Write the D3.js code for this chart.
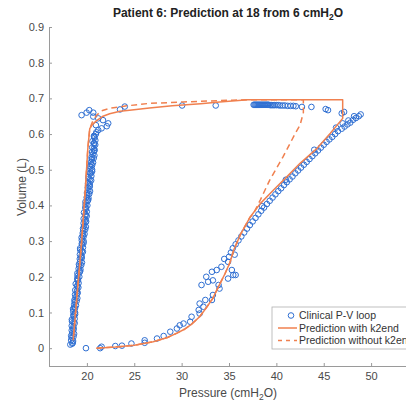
<!DOCTYPE html>
<html>
<head>
<meta charset="utf-8">
<script src="https://cdn.jsdelivr.net/npm/d3@7"></script>
<style>
    html, body { margin: 0; padding: 0; background: #fff; }
    svg { display: block; font-family: "Liberation Sans", Arial, Helvetica, sans-serif; }
</style>
</head>
<body>
<div id="chart"></div>
<script>
// Clinical P-V loop, [pressure cmH2O, volume L]
// steep inspiratory limb
const columnPts = [
    [18.25,0.01],[18.51,0.015],[18.54,0.02],[18.40,0.03],[18.34,0.035],[18.65,0.04],[18.40,0.05],[18.57,0.055],
    [18.58,0.06],[18.71,0.07],[18.43,0.075],[18.41,0.08],[18.62,0.09],[18.76,0.095],[18.75,0.10],[18.54,0.11],
    [18.66,0.115],[18.85,0.12],[18.72,0.13],[18.69,0.135],[18.99,0.14],[18.75,0.15],[19.03,0.155],[18.95,0.16],
    [19.10,0.17],[18.98,0.175],[18.82,0.18],[19.05,0.19],[19.00,0.195],[19.20,0.20],[19.00,0.21],[19.28,0.215],
    [19.32,0.22],[19.20,0.23],[19.16,0.235],[19.48,0.24],[19.25,0.25],[19.42,0.255],[19.44,0.26],[19.58,0.27],
    [19.30,0.275],[19.29,0.28],[19.51,0.29],[19.65,0.295],[19.65,0.30],[19.44,0.31],[19.56,0.315],[19.75,0.32],
    [19.62,0.33],[19.59,0.335],[19.89,0.34],[19.65,0.35],[19.92,0.355],[19.84,0.36],[19.98,0.37],[19.85,0.375],
    [19.69,0.38],[19.91,0.39],[19.85,0.395],[20.05,0.40],[19.85,0.41],[20.13,0.415],[20.17,0.42],[20.05,0.43],
    [20.01,0.435],[20.33,0.44],[20.10,0.45],[20.28,0.455],[20.30,0.46],[20.45,0.47],[20.18,0.475],[20.17,0.48],
    [20.40,0.49],[20.55,0.495],[20.55,0.50],[20.34,0.51],[20.46,0.515],[20.65,0.52],[20.52,0.53],[20.49,0.535],
    [20.79,0.54],[20.55,0.55],[20.82,0.555],[20.74,0.56],[20.88,0.57],[20.75,0.575],[20.59,0.58],[20.81,0.59],
    [20.75,0.595],[20.95,0.60]
];
// second pass of the same limb (the recording is very dense there)
const columnPts2 = [
    [18.45,0.0125],[18.34,0.0225],[18.59,0.0325],[18.46,0.0425],[18.60,0.0525],[18.40,0.0625],[18.60,0.0725],
    [18.71,0.0825],[18.57,0.0925],[18.56,0.1025],[18.75,0.1125],[18.66,0.1225],[18.92,0.1325],[18.80,0.1425],
    [18.95,0.1525],[18.77,0.1625],[18.99,0.1725],[19.12,0.1825],[19.00,0.1925],[19.01,0.2025],[19.21,0.2125],
    [19.13,0.2225],[19.40,0.2325],[19.29,0.2425],[19.45,0.2525],[19.26,0.2625],[19.47,0.2725],[19.59,0.2825],
    [19.46,0.2925],[19.46,0.3025],[19.65,0.3125],[19.56,0.3225],[19.82,0.3325],[19.70,0.3425],[19.85,0.3525],
    [19.66,0.3625],[19.87,0.3725],[19.99,0.3825],[19.86,0.3925],[19.86,0.4025],[20.06,0.4125],[19.98,0.4225],
    [20.25,0.4325],[20.14,0.4425],[20.30,0.4525],[20.12,0.4625],[20.34,0.4725],[20.47,0.4825],[20.35,0.4925],
    [20.36,0.5025],[20.55,0.5125],[20.46,0.5225],[20.72,0.5325],[20.60,0.5425],[20.75,0.5525],[20.56,0.5625],
    [20.77,0.5725],[20.89,0.5825],[20.76,0.5925]
];
// scatter around the upper-left corner
const cornerPts = [
    [21.0,0.605],[21.2,0.611],[21.55,0.616],[22.1,0.622],[22.25,0.63],[20.95,0.625],[21.7,0.639],[21.2,0.644],
    [20.67,0.649],[20.67,0.66],[20.25,0.667],[19.97,0.66],[19.44,0.653],[23.5,0.669],[24.0,0.677]
];
// end-inspiratory plateau
const plateauPts = [
    [30.05,0.68],[33.6,0.68],
    [37.6,0.682],[37.7,0.682],[37.8,0.682],[37.9,0.682],[38.0,0.682],[38.1,0.682],[38.2,0.682],[38.3,0.682],
    [38.4,0.682],[38.5,0.682],[38.6,0.682],[38.7,0.682],[38.8,0.682],[38.9,0.682],[39.0,0.682],[39.1,0.682],
    [39.2,0.682],[39.35,0.681],[39.5,0.681],[39.65,0.681],[39.8,0.681],[40.0,0.681],[40.2,0.681],[40.4,0.680],
    [40.65,0.680],[40.9,0.680],[41.2,0.679],[41.5,0.679],[41.8,0.679],[42.05,0.678],
    [42.7,0.676],[43.7,0.676],[45.2,0.670],[45.45,0.667],[47.15,0.662],[46.9,0.658]
];
// expiratory limb
const expirationPts = [
    [48.9,0.655],[48.7,0.650],[48.4,0.645],[48.1,0.640],[47.8,0.632],[47.5,0.627],[47.2,0.621],[46.9,0.615],
    [46.5,0.608],[46.2,0.600],[45.9,0.592],[45.6,0.585],[45.3,0.578],[45.0,0.570],[44.7,0.562],[44.4,0.554],
    [44.1,0.546],[43.8,0.538],[43.5,0.530],[43.2,0.522],[42.9,0.514],[42.6,0.506],[42.3,0.498],[42.0,0.490],
    [41.7,0.481],[41.4,0.473],[41.1,0.465],[40.8,0.457],[40.5,0.448],[40.2,0.440],[39.9,0.431],[39.6,0.422],
    [39.3,0.413],[39.0,0.404],[38.7,0.394],[38.4,0.385],[38.1,0.375],[37.8,0.365],[37.5,0.355],[37.2,0.345],
    [36.9,0.335],[36.6,0.324],[36.3,0.313],[36.0,0.302],[35.7,0.291],[35.4,0.280],[35.2,0.268],[35.0,0.256],
    [48.2,0.650],[47.6,0.638],[47.0,0.630],[46.3,0.618],[44.0,0.556],[41.0,0.472],[38.5,0.398]
];
// low-volume toe region
const toePts = [
    [34.9,0.242],[34.2,0.228],[33.7,0.219],[33.2,0.214],[32.6,0.200],[33.3,0.190],[32.8,0.186],[32.1,0.177],
    [33.9,0.177],[35.3,0.219],[35.45,0.205],[35.7,0.205],[34.9,0.195],[34.0,0.167],[33.3,0.149],[33.2,0.135],
    [32.5,0.135],[31.9,0.125],[32.3,0.116],[31.8,0.107],[31.9,0.097],[31.05,0.088],[30.9,0.074],[30.2,0.069],
    [29.8,0.064],[29.5,0.055],[28.8,0.046],[28.1,0.034],[27.4,0.027],[26.1,0.022],[26.1,0.015],[24.7,0.013],
    [23.7,0.007],[23.0,0.006],[21.55,0.004],[21.4,0.0],[19.9,0.0],[34.5,0.250],[35.6,0.262]
];

// Prediction with k2end (solid)
const withK2end = [
    [21.0,0.0],[23.0,0.003],[25.0,0.008],[27.0,0.018],[28.5,0.030],[29.5,0.042],[30.3,0.053],[31.0,0.066],
    [31.9,0.088],[32.6,0.113],[33.3,0.140],[34.0,0.178],[34.6,0.210],[35.1,0.240],[35.5,0.275],[36.2,0.318],
    [37.2,0.366],[38.3,0.405],[39.7,0.443],[41.1,0.480],[42.5,0.518],[44.3,0.560],[45.7,0.602],[47.0,0.644],
    [47.0,0.696],[37.0,0.696],[34.0,0.690],[32.0,0.685],[29.0,0.679],[26.6,0.673],[24.5,0.667],[23.5,0.664],
    [22.4,0.657],[21.7,0.650],[21.0,0.637],[20.6,0.627],[20.3,0.615],[20.1,0.560],[19.8,0.430],[19.45,0.300],
    [19.0,0.160],[18.55,0.022]
];
// Prediction without k2end (dashed)
const withoutK2end = [
    [21.0,0.0],[23.0,0.003],[25.0,0.008],[27.0,0.018],[28.5,0.030],[29.5,0.042],[30.3,0.053],[31.0,0.066],
    [31.9,0.088],[32.6,0.113],[33.3,0.140],[34.0,0.178],[34.6,0.210],[35.1,0.240],[35.5,0.275],[36.2,0.318],
    [37.2,0.366],[37.6,0.378],[38.3,0.415],[39.3,0.471],[40.7,0.536],[42.0,0.602],[42.5,0.625],[42.85,0.660],
    [42.85,0.696],[37.0,0.696],[35.4,0.695],[30.2,0.690],[26.6,0.686],[24.2,0.679],[22.4,0.672],[21.55,0.665],
    [21.0,0.652],[20.6,0.635],[20.3,0.615],[20.1,0.560],[19.8,0.430],[19.45,0.300],[19.0,0.160],[18.55,0.022]
];

const xTicks = [20, 25, 30, 35, 40, 45, 50];
const yTicks = [0, 0.1, 0.2, 0.3, 0.4, 0.5, 0.6, 0.7, 0.8, 0.9];
const legendLabels = ['Clinical P-V loop', 'Prediction with k2end', 'Prediction without k2end'];

const W = 406, H = 403;
const BLUE = '#2f6fd2', ORANGE = '#f0804f', AXIS = '#9a9a9a', TEXT = '#4a4a4a';

const svg = d3.select('#chart').append('svg')
    .attr('width', W)
    .attr('height', H);

svg.append('rect').attr('width', W).attr('height', H).attr('fill', '#fff');

// plot area
const x = d3.scaleLinear().domain([16, 54]).range([49, 409]);
const y = d3.scaleLinear().domain([-0.05, 0.9]).range([366, 27]);

svg.append('clipPath').attr('id', 'plotClip')
    .append('rect')
    .attr('x', 49).attr('y', 27)
    .attr('width', 360).attr('height', 339);

// axes (MATLAB style, ticks inside, no box)
const xAxis = svg.append('g')
    .attr('transform', `translate(0,${y.range()[0]})`)
    .call(d3.axisBottom(x).tickValues(xTicks).tickSizeInner(-3).tickSizeOuter(0).tickPadding(6));
const yAxis = svg.append('g')
    .attr('transform', `translate(${x.range()[0]},0)`)
    .call(d3.axisLeft(y).tickValues(yTicks).tickSizeInner(-3).tickSizeOuter(0).tickPadding(5)
        .tickFormat(d => d === 0 ? '0' : d3.format('.1f')(d)));

[xAxis, yAxis].forEach(g => {
    g.select('.domain').attr('stroke', AXIS).attr('stroke-width', 1);
    g.selectAll('.tick line').attr('stroke', AXIS);
    g.selectAll('.tick text')
        .attr('fill', TEXT)
        .attr('font-size', '11px')
        .attr('font-family', '"Liberation Sans", Arial, sans-serif');
});
xAxis.select('.domain').attr('d', `M${x.range()[0]},0.5H${x.range()[1]}`);
yAxis.select('.domain').attr('d', `M0.5,${y.range()[0]}V${y.range()[1]}`);

// labels
svg.append('text')
    .attr('x', 228).attr('y', 397)
    .attr('text-anchor', 'middle')
    .attr('font-size', '12px')
    .attr('fill', TEXT)
    .call(t => {
        t.append('tspan').text('Pressure (cmH');
        t.append('tspan').attr('dy', 3).attr('font-size', '8.5px').text('2');
        t.append('tspan').attr('dy', -3).text('O)');
    });

svg.append('text')
    .attr('transform', 'translate(26,187) rotate(-90)')
    .attr('text-anchor', 'middle')
    .attr('font-size', '12px')
    .attr('fill', TEXT)
    .text('Volume (L)');

svg.append('text')
    .attr('x', 228).attr('y', 17)
    .attr('text-anchor', 'middle')
    .attr('font-size', '12px')
    .attr('font-weight', 'bold')
    .attr('fill', '#222')
    .call(t => {
        t.append('tspan').text('Patient 6: Prediction at 18 from 6 cmH');
        t.append('tspan').attr('dy', 3).attr('font-size', '8.5px').text('2');
        t.append('tspan').attr('dy', -3).text('O');
    });

// data layers
const plot = svg.append('g').attr('clip-path', 'url(#plotClip)');

const clinical = [].concat(columnPts, columnPts2, cornerPts, plateauPts, expirationPts, toePts);

plot.selectAll('.pv-point')
    .data(clinical)
    .enter()
    .append('circle')
    .attr('class', 'pv-point')
    .attr('cx', d => x(d[0]))
    .attr('cy', d => y(d[1]))
    .attr('r', 2.8)
    .attr('fill', 'none')
    .attr('stroke', BLUE)
    .attr('stroke-width', 1);

const line = d3.line().x(d => x(d[0])).y(d => y(d[1]));

plot.append('path')
    .datum(withK2end)
    .attr('d', line)
    .attr('fill', 'none')
    .attr('stroke', ORANGE)
    .attr('stroke-width', 1.5)
    .attr('stroke-linejoin', 'round');

plot.append('path')
    .datum(withoutK2end)
    .attr('d', line)
    .attr('fill', 'none')
    .attr('stroke', ORANGE)
    .attr('stroke-width', 1.5)
    .attr('stroke-dasharray', '6,4');

// legend (runs off the right edge like the original)
const legend = svg.append('g').attr('transform', 'translate(272,307)');
legend.append('rect')
    .attr('width', 150).attr('height', 42)
    .attr('fill', '#fff')
    .attr('stroke', '#b0b0b0')
    .attr('stroke-width', 0.8);

legendLabels.forEach((label, i) => {
    const ly = 8.5 + i * 12.5;
    if (i === 0) {
        legend.append('circle')
            .attr('cx', 19).attr('cy', ly)
            .attr('r', 2.8)
            .attr('fill', 'none')
            .attr('stroke', BLUE);
    } else {
        legend.append('line')
            .attr('x1', 6).attr('x2', 25)
            .attr('y1', ly).attr('y2', ly)
            .attr('stroke', ORANGE)
            .attr('stroke-width', 1.5)
            .attr('stroke-dasharray', i === 2 ? '4,4' : null);
    }
    legend.append('text')
        .attr('x', 27).attr('y', ly + 3.8)
        .attr('font-size', '10.5px')
        .attr('fill', '#333')
        .text(label);
});
</script>
</body>
</html>
